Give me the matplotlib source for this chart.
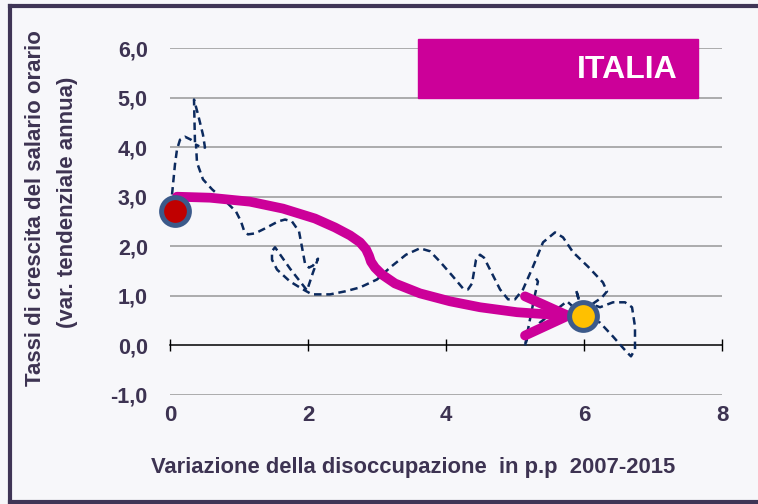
import matplotlib
matplotlib.use("Agg")
import matplotlib.pyplot as plt
from matplotlib.patches import Rectangle
from matplotlib.lines import Line2D

# --- Dati ---
# traiettoria Italia (disoccupazione, salari)
traiettoria_x = [0.058, 0.029, 0.072, 0.101, 0.145, 0.217, 0.304, 0.362, 0.348, 0.406,
                 0.478, 0.507, 0.435, 0.377, 0.391, 0.478, 0.609, 0.826, 0.957, 1.029,
                 1.072, 1.130, 1.232, 1.377, 1.565, 1.667, 1.768, 1.870, 1.913, 1.957,
                 2.014, 2.072, 2.145, 2.072, 1.986, 1.739, 1.522, 1.478, 1.478, 1.551,
                 1.739, 1.928, 2.058, 2.319, 2.536, 2.754, 3.000, 3.188, 3.420, 3.623,
                 3.768, 3.913, 4.101, 4.246, 4.319, 4.377, 4.435, 4.493, 4.551, 4.638,
                 4.783, 4.899, 5.000, 5.116, 5.261, 5.406, 5.580, 5.696, 5.841, 6.058,
                 6.275, 6.333, 6.261, 6.116, 6.232, 6.420, 6.594, 6.696, 6.739, 6.739,
                 6.681, 6.623, 6.420, 6.232, 5.986, 5.884, 5.986, 5.754, 5.551, 5.362,
                 5.188, 5.145, 5.174, 5.232, 5.290, 5.333, 5.304]
traiettoria_y = [2.80, 3.04, 3.65, 3.95, 4.15, 4.21, 4.15, 4.09, 4.96, 4.66,
                 4.25, 3.99, 4.01, 4.05, 3.69, 3.35, 3.15, 2.88, 2.70, 2.50,
                 2.32, 2.24, 2.26, 2.36, 2.50, 2.54, 2.50, 2.30, 1.98, 1.65,
                 1.57, 1.61, 1.75, 1.47, 1.11, 1.55, 1.98, 1.90, 1.73, 1.53,
                 1.29, 1.13, 1.03, 1.03, 1.09, 1.17, 1.33, 1.57, 1.83, 1.96,
                 1.90, 1.69, 1.39, 1.15, 1.13, 1.25, 1.73, 1.83, 1.77, 1.53,
                 1.13, 0.93, 0.93, 1.13, 1.59, 2.08, 2.28, 2.18, 1.88, 1.59,
                 1.27, 1.09, 0.97, 0.83, 0.77, 0.87, 0.87, 0.77, 0.38, -0.08,
                 -0.22, -0.14, 0.18, 0.46, 0.60, 1.13, 0.60, 0.89, 0.67, 0.46,
                 0.22, -0.02, 0.22, 0.63, 1.03, 1.29, 1.35]

# freccia di tendenza
freccia_x = [0.101, 0.580, 1.159, 1.638, 2.101, 2.391, 2.609, 2.754, 2.841, 2.884,
             2.913, 2.971, 3.072, 3.261, 3.623, 4.058, 4.493, 5.029, 5.435, 5.768]
freccia_y = [3.00, 2.98, 2.90, 2.76, 2.56, 2.38, 2.22, 2.08, 1.94, 1.81,
             1.69, 1.57, 1.43, 1.25, 1.05, 0.89, 0.77, 0.67, 0.63, 0.60]
punta_x = [5.145, 5.768, 5.145]
punta_y = [0.99, 0.60, 0.20]

# punti iniziale (2007) e finale (2015)
inizio = (0.072, 2.72)
fine = (5.986, 0.60)

x_ticks = [0, 2, 4, 6, 8]
y_ticks = [-1, 0, 1, 2, 3, 4, 5, 6]
y_labels = ["-1,0", "0,0", "1,0", "2,0", "3,0", "4,0", "5,0", "6,0"]

MAGENTA = "#CC0099"
TESTO = "#3D3352"
plt.rcParams["font.family"] = ["Liberation Sans", "DejaVu Sans"]
plt.rcParams["font.weight"] = "bold"

# --- Figura ---
fig = plt.figure(figsize=(7.58, 5.04), dpi=100, facecolor="#F7F7FA")
ax = fig.add_axes([170 / 758, 109 / 504, 552 / 758, 347 / 504])
ax.set_facecolor("none")
ax.set_xlim(0, 8)
ax.set_ylim(-1, 6)

# griglia
for v in y_ticks:
    if v != 0:
        ax.axhline(v, color="#A6A6A6", lw=1.3, zorder=1)

# asse x sullo zero
for s in ["top", "right", "left"]:
    ax.spines[s].set_visible(False)
ax.spines["bottom"].set_position(("data", 0))
ax.spines["bottom"].set_color("black")
ax.spines["bottom"].set_linewidth(1.1)
ax.spines["bottom"].set_zorder(2)
ax.set_xticks(x_ticks)
ax.set_xticklabels([str(v) for v in x_ticks])
ax.tick_params(axis="x", direction="inout", length=9, width=1, color="black",
               pad=38.5, labelsize=16, labelcolor=TESTO)
ax.set_yticks(y_ticks)
ax.set_yticklabels(y_labels)
ax.tick_params(axis="y", length=0, pad=16, labelsize=15.5, labelcolor=TESTO)

# traiettoria tratteggiata
ax.plot(traiettoria_x, traiettoria_y, color="#0C2A5E", lw=1.8, dashes=(3, 1.9),
        solid_joinstyle="round", zorder=3, clip_on=False)

# freccia
ax.plot(freccia_x, freccia_y, color=MAGENTA, lw=7, solid_capstyle="round",
        solid_joinstyle="round", zorder=4, clip_on=False)
ax.plot(punta_x, punta_y, color=MAGENTA, lw=7, solid_capstyle="round",
        solid_joinstyle="round", zorder=4, clip_on=False)

# punti
ax.plot(*inizio, "o", ms=20, mfc="#C00000", mec="#3C5A8A", mew=3.6, zorder=5, clip_on=False)
ax.plot(*fine, "o", ms=20, mfc="#FFC000", mec="#3C5A8A", mew=3.6, zorder=5, clip_on=False)

# riquadro titolo
ax.add_patch(Rectangle((3.59, 5.0), 4.06, 1.19, color=MAGENTA, zorder=6, clip_on=False))
ax.text(7.35, 5.55, "ITALIA", color="white", fontsize=23, ha="right", va="center",
        zorder=7)

# etichette assi
fig.text(413 / 758, 1 - 467 / 504, "Variazione della disoccupazione  in p.p  2007-2015",
         ha="center", va="center", fontsize=15.8, color=TESTO)
fig.text(36 / 758, 1 - 208 / 504, "Tassi di crescita del salario orario",
         ha="center", va="center", rotation=90, fontsize=16, color=TESTO)
fig.text(68 / 758, 1 - 202 / 504, "(var. tendenziale annua)",
         ha="center", va="center", rotation=90, fontsize=16, color=TESTO)

# cornice (sinistra, alto, basso)
bordo = dict(color="#3F3556", lw=3, transform=fig.transFigure)
fig.lines.append(Line2D([10 / 758, 10 / 758], [2 / 504, 1 - 6 / 504], **bordo))
fig.lines.append(Line2D([10 / 758, 1], [1 - 6 / 504, 1 - 6 / 504], **bordo))
fig.lines.append(Line2D([10 / 758, 1], [2 / 504, 2 / 504], **bordo))

plt.savefig("out.png", dpi=100, facecolor=fig.get_facecolor())
